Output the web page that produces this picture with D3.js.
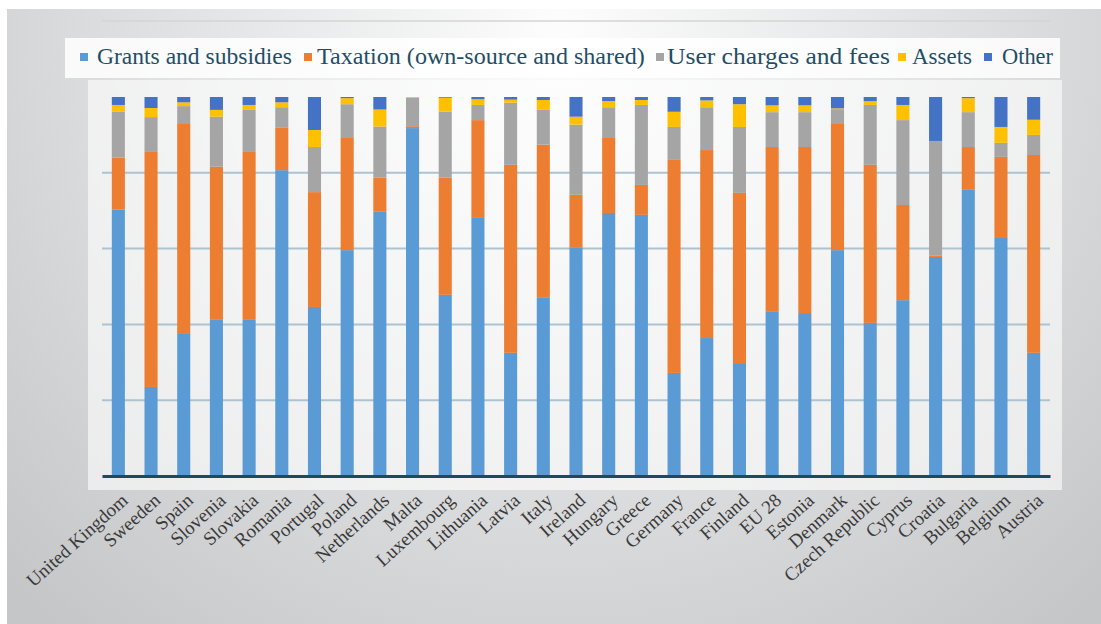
<!DOCTYPE html>
<html>
<head>
<meta charset="utf-8">
<script src="https://cdnjs.cloudflare.com/ajax/libs/d3/7.8.5/d3.min.js"></script>
<style>
  html, body { margin: 0; padding: 0; background: #ffffff; }
  .chart { width: 1101px; height: 624px; }
</style>
</head>
<body>
<div class="chart"></div>
<script>
var countries = ["United Kingdom", "Sweeden", "Spain", "Slovenia", "Slovakia", "Romania", "Portugal",
  "Poland", "Netherlands", "Malta", "Luxembourg", "Lithuania", "Latvia", "Italy", "Ireland", "Hungary",
  "Greece", "Germany", "France", "Finland", "EU 28", "Estonia", "Denmark", "Czech Republic", "Cyprus",
  "Croatia", "Bulgaria", "Belgium", "Austria"];

var grants = [70.2, 23.5, 37.7, 41.2, 41.2, 80.7, 44.6, 59.6, 69.7, 91.8, 47.8, 68.3, 32.5, 47.0, 60.2,
  69.4, 68.9, 27.2, 36.4, 29.8, 43.3, 43.0, 59.6, 40.4, 46.4, 57.8, 75.5, 62.8, 32.5];
var taxation = [13.7, 62.0, 55.4, 40.4, 44.3, 11.3, 30.3, 29.8, 9.0, 0.5, 30.9, 25.6, 49.6, 40.4, 14.0,
  20.0, 7.9, 56.2, 49.6, 44.9, 43.5, 43.8, 33.5, 41.7, 25.1, 0.3, 11.3, 21.4, 52.2];
var userCharges = [12.1, 9.2, 4.5, 13.2, 11.1, 5.3, 11.9, 8.7, 13.5, 7.5, 17.4, 4.0, 16.4, 9.2, 18.5,
  7.9, 21.1, 8.7, 11.3, 17.4, 9.2, 9.2, 3.7, 15.8, 22.4, 30.3, 9.2, 3.7, 5.3];
var assets = [1.8, 2.4, 1.0, 1.8, 1.3, 1.3, 4.5, 1.6, 4.5, 0.2, 3.7, 1.5, 0.8, 2.6, 2.1,
  1.6, 1.3, 4.0, 1.8, 6.0, 1.8, 1.8, 0.2, 1.0, 4.0, 0.0, 3.7, 4.2, 4.0];
var other = [2.1, 2.9, 1.4, 3.4, 2.1, 1.4, 8.7, 0.3, 3.3, 0.0, 0.2, 0.6, 0.7, 0.8, 5.2,
  1.1, 0.8, 3.9, 0.9, 1.9, 2.2, 2.2, 3.0, 1.1, 2.1, 11.6, 0.3, 7.9, 6.0];

var seriesNames = ["Grants and subsidies", "Taxation (own-source and shared)", "User charges and fees", "Assets", "Other"];
var seriesColors = ["#5b9bd5", "#ed7d31", "#a5a5a5", "#ffc000", "#4472c4"];
var gridTicks = [0.2, 0.4, 0.6, 0.8];

var svgWidth = 1101;
var svgHeight = 624;
var serif = "Liberation Serif";

var svg = d3.select(".chart")
  .append("svg")
  .attr("width", svgWidth)
  .attr("height", svgHeight)
  .attr("font-family", serif);

// slide-like grey background
var defs = svg.append("defs");
var grad = defs.append("radialGradient")
  .attr("id", "bg")
  .attr("gradientUnits", "userSpaceOnUse")
  .attr("cx", 560).attr("cy", 30).attr("r", 780);
grad.append("stop").attr("offset", "0%").attr("stop-color", "#fdfdfd");
grad.append("stop").attr("offset", "40%").attr("stop-color", "#e6e7e8");
grad.append("stop").attr("offset", "100%").attr("stop-color", "#c5c6c8");

svg.append("rect")
  .attr("x", 7).attr("y", 9)
  .attr("width", svgWidth - 7).attr("height", svgHeight - 9)
  .attr("fill", "url(#bg)");

svg.append("line")
  .attr("x1", 102).attr("x2", 1050)
  .attr("y1", 21).attr("y2", 21)
  .attr("stroke", "#d4d4d4").attr("stroke-width", 1.5);

// plot background
svg.append("rect")
  .attr("x", 88).attr("y", 80)
  .attr("width", 974).attr("height", 410)
  .attr("fill", "#ffffff").attr("opacity", 0.6);

var rows = countries.map(function(c, i) {
  return { country: c, grants: grants[i], taxation: taxation[i], userCharges: userCharges[i], assets: assets[i], other: other[i] };
});
var keys = ["grants", "taxation", "userCharges", "assets", "other"];

var stack = d3.stack().keys(keys).offset(d3.stackOffsetExpand);
var layers = stack(rows);

var xScale = d3.scaleBand()
  .domain(countries)
  .range([102, 1050])
  .paddingInner(0.6)
  .paddingOuter(0.3);

var yScale = d3.scaleLinear().domain([0, 1]).range([476, 97]);

// gridlines
svg.append("g")
  .selectAll("line")
  .data(gridTicks)
  .enter()
  .append("line")
  .attr("x1", 102).attr("x2", 1050)
  .attr("y1", function(d) { return yScale(d); })
  .attr("y2", function(d) { return yScale(d); })
  .attr("stroke", "#adc3d0")
  .attr("stroke-width", 2);

// bars
svg.append("g")
  .selectAll("g")
  .data(layers)
  .enter()
  .append("g")
  .attr("fill", function(d, i) { return seriesColors[i]; })
  .selectAll("rect")
  .data(function(d) { return d; })
  .enter()
  .append("rect")
  .attr("x", function(d) { return xScale(d.data.country); })
  .attr("y", function(d) { return yScale(d[1]); })
  .attr("height", function(d) { return yScale(d[0]) - yScale(d[1]); })
  .attr("width", xScale.bandwidth());

// x axis
var bottomAxis = d3.axisBottom(xScale).tickSize(0).tickPadding(0);
var xAxis = svg.append("g")
  .attr("transform", "translate(0,476)")
  .call(bottomAxis)
  .attr("font-family", serif)
  .attr("font-size", 19);

xAxis.select(".domain")
  .attr("stroke", "#1c4a5e")
  .attr("stroke-width", 3);

xAxis.selectAll(".tick text")
  .attr("fill", "#3a3a3a")
  .attr("text-anchor", "end")
  .attr("dy", null)
  .attr("y", null)
  .attr("transform", "translate(" + (xScale.bandwidth() / 2 + 4) + ",26) rotate(-42)");

// legend
svg.append("rect")
  .attr("x", 65).attr("y", 38)
  .attr("width", 995).attr("height", 40)
  .attr("fill", "#ffffff").attr("opacity", 0.85);

var legendMarks = [84, 308, 660, 902, 988];
var legendText = [[97, 292], [317, 645], [667, 890], [912, 972], [1002, 1053]];

var legend = svg.append("g")
  .attr("font-family", serif)
  .attr("font-size", 23)
  .selectAll("g")
  .data(seriesNames)
  .enter()
  .append("g");

legend.append("rect")
  .attr("x", function(d, i) { return legendMarks[i] - 4; })
  .attr("y", 53)
  .attr("width", 8).attr("height", 8)
  .attr("fill", function(d, i) { return seriesColors[i]; });

// squeeze each label to the width it has in the picture
legend.append("text")
  .attr("fill", "#1f4e66")
  .text(function(d) { return d; })
  .attr("transform", function(d, i) {
    var w = this.getComputedTextLength();
    var k = (legendText[i][1] - legendText[i][0]) / w;
    return "translate(" + legendText[i][0] + ",64) scale(" + k + ",1)";
  });
</script>
</body>
</html>
